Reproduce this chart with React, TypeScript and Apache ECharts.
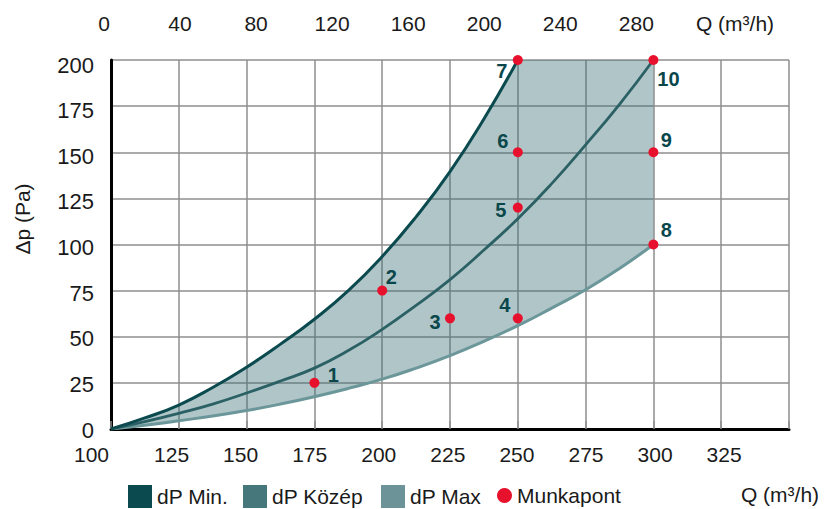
import React, { useEffect, useRef } from 'react';
import * as echarts from 'echarts';

// ---- data ----
const qMin = [100, 112.5, 125, 137.5, 150, 162.5, 175, 187.5, 200, 212.5, 225, 237.5, 250];
const dpMin = [0, 6, 13, 22.5, 33.5, 46, 59.5, 75, 93.5, 115, 139.5, 168, 200];
const qMid = [100, 112.5, 125, 137.5, 150, 162.5, 175, 187.5, 200, 212.5, 225, 237.5, 250, 262.5, 275, 287.5, 300];
const dpMid = [0, 4, 8.5, 13.5, 19.5, 26, 33, 42.5, 54, 67, 81, 97, 114, 133, 154, 176, 200];
const qMax = [100, 112.5, 125, 137.5, 150, 162.5, 175, 187.5, 200, 212.5, 225, 237.5, 250, 262.5, 275, 287.5, 300];
const dpMax = [0, 2, 4.5, 7, 10, 13.5, 17.5, 22, 27, 33, 39.8, 47.5, 56, 65.5, 75.5, 87, 100];

const pointNames = ['1', '2', '3', '4', '5', '6', '7', '8', '9', '10'];
const pointQ = [175, 200, 225, 250, 250, 250, 250, 300, 300, 300];
const pointDp = [25, 75, 60, 60, 120, 150, 200, 100, 150, 200];

const bottomTickLabels = [100, 125, 150, 175, 200, 225, 250, 275, 300, 325];
const topTickLabels = [0, 40, 80, 120, 160, 200, 240, 280];
const yTickLabels = [0, 25, 50, 75, 100, 125, 150, 175, 200];

// label offsets (style, px)
const labelOffsets = [
  [19, -8], [9, -14], [-15, 4], [-13, -13], [-17, 2],
  [-15, -11], [-16, 11], [13, -15], [13, -12], [15, 19],
];

const FONT = 'Liberation Sans, Arial, Helvetica, sans-serif';
const GRID_COLOR = '#8e8e8e';

function clamp(v: number, a: number, b: number) {
  return Math.max(Math.min(v, Math.max(a, b)), Math.min(a, b));
}

// same smoothing as echarts line (smooth = 0.5), sampled into a polyline
function smoothPts(pts: number[][], smooth: number): number[][] {
  const out: number[][] = [pts[0]];
  let cpx0 = pts[0][0], cpy0 = pts[0][1];
  let prevX = pts[0][0], prevY = pts[0][1];
  const n = pts.length;
  for (let i = 1; i < n; i++) {
    const x = pts[i][0], y = pts[i][1];
    let cpx1: number, cpy1: number, nextCpx0 = x, nextCpy0 = y;
    if (i === n - 1) {
      cpx1 = x; cpy1 = y;
    } else {
      const nextX = pts[i + 1][0], nextY = pts[i + 1][1];
      let vx = nextX - prevX, vy = nextY - prevY;
      const lenPrev = Math.hypot(x - prevX, y - prevY);
      const lenNext = Math.hypot(nextX - x, nextY - y);
      const ratio = lenNext / (lenNext + lenPrev);
      nextCpx0 = clamp(x + vx * smooth * ratio, nextX, x);
      nextCpy0 = clamp(y + vy * smooth * ratio, nextY, y);
      vx = nextCpx0 - x; vy = nextCpy0 - y;
      cpx1 = clamp(x - vx * lenPrev / lenNext, prevX, x);
      cpy1 = clamp(y - vy * lenPrev / lenNext, prevY, y);
      vx = x - cpx1; vy = y - cpy1;
      nextCpx0 = x + vx * lenNext / lenPrev;
      nextCpy0 = y + vy * lenNext / lenPrev;
    }
    const N = 16;
    for (let s = 1; s <= N; s++) {
      const t = s / N, u = 1 - t;
      const bx = u * u * u * prevX + 3 * u * u * t * cpx0 + 3 * u * t * t * cpx1 + t * t * t * x;
      const by = u * u * u * prevY + 3 * u * u * t * cpy0 + 3 * u * t * t * cpy1 + t * t * t * y;
      out.push([bx, by]);
    }
    cpx0 = nextCpx0; cpy0 = nextCpy0; prevX = x; prevY = y;
  }
  return out;
}

export default function App() {
  const ref = useRef<HTMLDivElement>(null);
  useEffect(() => {
    if (!ref.current) return;
    const chart = echarts.init(ref.current, null, { renderer: 'svg' });
    const tickText = { fontSize: 21, color: '#1a1a1a', fontFamily: FONT };
    const legendText = { fontSize: 21, color: '#1a1a1a', fontFamily: FONT };

    const option: any = {
      animation: false,
      textStyle: { fontFamily: FONT },
      grid: [
        { left: 111, top: 60, width: 678, height: 369 },
        { left: 102.5, top: 60, width: 690.7, height: 369 },
        { left: 111, top: 65, width: 678, height: 365 },
        { left: 104, top: 60, width: 684.4, height: 369 },
      ],
      xAxis: [
        {
          gridIndex: 0, type: 'value', position: 'bottom', min: 100, max: 350, interval: 25,
          axisLine: { show: true, onZero: false, lineStyle: { color: '#000', width: 3 } },
          axisTick: { show: false }, axisLabel: { show: false },
          splitLine: { show: true, lineStyle: { color: GRID_COLOR, width: 1.5 } },
        },
        {
          gridIndex: 0, type: 'value', position: 'top', min: 100, max: 350, interval: 25,
          axisLine: { show: false },
          axisTick: { show: true, length: 8, lineStyle: { color: GRID_COLOR, width: 1.5 } },
          axisLabel: { show: false }, splitLine: { show: false },
        },
        {
          gridIndex: 1, type: 'value', position: 'bottom', min: 100, max: 350, interval: 25,
          axisLine: { show: false }, axisTick: { show: false }, splitLine: { show: false },
          axisLabel: {
            ...tickText, margin: 15,
            formatter: (v: number) =>
              v === bottomTickLabels[0] ? '{l|' + v + '}' : bottomTickLabels.includes(v) ? String(v) : '',
            rich: { l: { ...tickText, padding: [0, 22, 0, 0] } },
          },
        },
        { gridIndex: 2, type: 'value', show: false, min: 0, max: 1 },
        {
          gridIndex: 3, type: 'value', position: 'top', min: 0, max: 360, interval: 40,
          axisLine: { show: false }, axisTick: { show: false }, splitLine: { show: false },
          axisLabel: {
            ...tickText, margin: 26,
            formatter: (v: number) => (topTickLabels.includes(v) ? String(v) : ''),
          },
        },
      ],
      yAxis: [
        {
          gridIndex: 0, type: 'value', min: 0, max: 200, interval: 25,
          axisLine: { show: true, onZero: false, lineStyle: { color: '#000', width: 3 } },
          axisTick: { show: false }, axisLabel: { show: false },
          splitLine: { show: true, lineStyle: { color: GRID_COLOR, width: 1.5 } },
        },
        { gridIndex: 1, type: 'value', show: false, min: 0, max: 1 },
        {
          gridIndex: 2, type: 'value', min: 0, max: 200, interval: 25,
          axisLine: { show: false }, axisTick: { show: false }, splitLine: { show: false },
          axisLabel: {
            fontSize: 22, color: '#1a1a1a', fontFamily: FONT, margin: 17,
            formatter: (v: number) => (yTickLabels.includes(v) ? String(v) : ''),
          },
        },
        { gridIndex: 3, type: 'value', show: false, min: 0, max: 1 },
      ],
      legend: [
        {
          data: [{ name: 'dP Min.', icon: 'rect', itemStyle: { color: '#0b4a4e', borderWidth: 0, opacity: 1 } }],
          left: 123, top: 480, itemWidth: 24, itemHeight: 23, selectedMode: false, textStyle: legendText,
        },
        {
          data: [{ name: 'dP Közép', icon: 'rect', itemStyle: { color: '#46787b', borderWidth: 0, opacity: 1 } }],
          left: 238, top: 480, itemWidth: 24, itemHeight: 23, selectedMode: false, textStyle: legendText,
        },
        {
          data: [{ name: 'dP Max', icon: 'rect', itemStyle: { color: '#6c9397', borderWidth: 0, opacity: 1 } }],
          left: 376, top: 480, itemWidth: 24, itemHeight: 23, selectedMode: false, textStyle: legendText,
        },
        {
          data: [{ name: 'Munkapont', icon: 'circle', itemStyle: { color: '#e8112d', borderWidth: 0, opacity: 1 } }],
          left: 492, top: 480, itemWidth: 15, itemHeight: 15, selectedMode: false, textStyle: legendText,
        },
      ],
      graphic: [
        {
          type: 'text', x: 22, y: 219, rotation: Math.PI / 2,
          style: { text: 'Δp (Pa)', fontSize: 21, fill: '#1a1a1a', font: `21px ${FONT}`, textAlign: 'center', textVerticalAlign: 'middle' },
        },
        {
          type: 'text', x: 735, y: 23,
          style: { text: 'Q (m³/h)', fontSize: 21, fill: '#1a1a1a', font: `21px ${FONT}`, textAlign: 'center', textVerticalAlign: 'middle' },
        },
        {
          type: 'text', x: 780, y: 494,
          style: { text: 'Q (m³/h)', fontSize: 21, fill: '#1a1a1a', font: `21px ${FONT}`, textAlign: 'center', textVerticalAlign: 'middle' },
        },
      ],
      series: [
        {
          name: 'band', type: 'custom', xAxisIndex: 0, yAxisIndex: 0, silent: true, z: 1,
          data: [[qMin[0], dpMin[0]]],
          renderItem: (_p: any, api: any) => {
            const minPx = qMin.map((q, i) => api.coord([q, dpMin[i]]));
            const maxPx = qMax.map((q, i) => api.coord([q, dpMax[i]]));
            const upper = smoothPts(minPx, 0.5);
            const lower = smoothPts(maxPx, 0.5).reverse();
            const corner = api.coord([qMax[qMax.length - 1], dpMin[dpMin.length - 1]]);
            const points = [...upper, corner, ...lower];
            return {
              type: 'polygon',
              shape: { points },
              style: { fill: 'rgba(58,110,116,0.40)', stroke: 'none' },
            };
          },
        },
        {
          name: 'dP Max', type: 'line', smooth: true, showSymbol: false, symbol: 'none', z: 2,
          data: qMax.map((q, i) => [q, dpMax[i]]),
          lineStyle: { color: '#6b979a', width: 3 }, itemStyle: { color: '#6c9397' },
        },
        {
          name: 'dP Közép', type: 'line', smooth: true, showSymbol: false, symbol: 'none', z: 3,
          data: qMid.map((q, i) => [q, dpMid[i]]),
          lineStyle: { color: '#2b6165', width: 2.8 }, itemStyle: { color: '#46787b' },
        },
        {
          name: 'dP Min.', type: 'line', smooth: true, showSymbol: false, symbol: 'none', z: 4,
          data: qMin.map((q, i) => [q, dpMin[i]]),
          lineStyle: { color: '#0b4a4e', width: 3 }, itemStyle: { color: '#0b4a4e' },
        },
        {
          name: 'Munkapont', type: 'scatter', symbol: 'circle', symbolSize: 10, z: 5, silent: true,
          itemStyle: { color: '#e8112d', opacity: 1 },
          data: pointNames.map((n, i) => ({
            name: n,
            value: [pointQ[i], pointDp[i]],
            label: { offset: labelOffsets[i] },
          })),
          label: {
            show: true, position: 'inside', formatter: '{b}', fontSize: 20, fontWeight: 'bold',
            color: '#0a474b', fontFamily: FONT, align: 'center', verticalAlign: 'middle',
            textBorderWidth: 0, textBorderColor: 'transparent', opacity: 1,
          },
        },
      ],
    };
    chart.setOption(option);
    return () => chart.dispose();
  }, []);
  return (
    <div
      ref={ref}
      style={{ position: 'fixed', left: 0, top: 0, width: 826, height: 509, background: '#fff' }}
    />
  );
}
